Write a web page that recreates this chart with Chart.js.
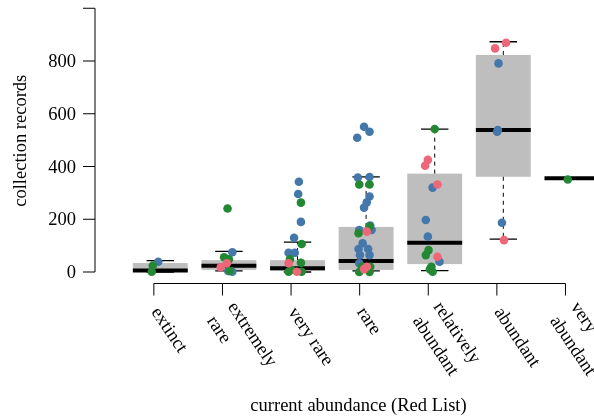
<!DOCTYPE html>
<html lang="en">
<head>
    <meta charset="UTF-8">
    <title>Collection records by abundance</title>
    <script src="https://cdn.jsdelivr.net/npm/chart.js@4.4.0/dist/chart.umd.min.js"></script>
    <style>
        body { margin: 0; padding: 0; background: #fff; }
        #chart { display: block; }
    </style>
</head>
<body>
<canvas id="chart" width="594" height="417"></canvas>
<script>
    // categories (multi-line labels as arrays of lines)
    const categories = [['extinct'], ['extremely', 'rare'], ['very rare'], ['rare'],
                        ['relatively', 'abundant'], ['abundant'], ['very', 'abundant']];

    // box statistics per category
    const boxLow    = [0, 4, 0, 4, 5, 125, 355];
    const boxQ1     = [0, 8, 5, 8, 30, 361, 355];
    const boxMedian = [6, 24, 14, 42, 111, 538, 355];
    const boxQ3     = [34, 45, 45, 171, 373, 823, 355];
    const boxHigh   = [43, 78, 113, 361, 542, 873, 355];

    // y axis
    const yTicks  = [0, 200, 400, 600, 800, 1000];
    const yLabels = ['0', '200', '400', '600', '800', ''];

    // jittered points: x = category number + jitter, y = collection records
    const blueX = [0.97, 2.05, 1.99, 2.05, 3.02, 3.01, 3.05, 2.95, 2.87, 2.96,
                   3.97, 4.05, 3.87, 3.88, 4.05, 4.05, 4.01, 3.97, 4.06, 4.08, 3.90, 3.95, 3.89, 4.03, 3.91, 4.05, 3.90,
                   4.97, 4.87, 4.90, 5.07, 5.93, 5.91, 5.92, 5.98];
    const blueY = [39, 75, 4, 1, 342, 296, 190, 130, 73, 73,
                   551, 532, 509, 358, 360, 286, 264, 244, 176, 159, 159, 109, 87, 87, 64, 64, 33,
                   320, 197, 134, 39, 791, 532, 538, 187];

    const greenX = [0.89, 0.875, 1.98, 1.93, 2.00, 2.01, 3.05, 3.06, 2.89, 3.05, 2.91, 2.87, 3.06,
                    3.90, 4.05, 4.05, 3.89, 3.94, 4.06, 3.90, 4.05,
                    5.00, 4.91, 4.87, 4.95, 4.93, 4.97, 6.94];
    const greenY = [24, 1, 241, 56, 48, 4, 263, 106, 48, 35, 8, 1, 1,
                    332, 332, 172, 147, 20, 20, 0, 0,
                    542, 83, 64, 20, 11, 1, 351];

    const pinkX = [1.97, 1.88, 2.87, 2.99, 4.01, 4.01, 3.97,
                   4.90, 4.86, 5.04, 5.04, 6.04, 5.88, 6.01];
    const pinkY = [33, 18, 33, 1, 153, 20, 11,
                   425, 403, 332, 58, 869, 848, 121];

    const FONT = '"Liberation Serif", "DejaVu Serif", serif';
    const boxHalf = 0.4;      // half box width, category units
    const capHalf = 0.2;
    const tickShift = 0.094;  // axis ticks sit slightly left of the boxes
    const labelAngle = 56 * Math.PI / 180;

    function pts(xs, ys) {
        return xs.map((x, i) => ({ x: x, y: ys[i] }));
    }

    const rPlot = {
        id: 'rPlot',
        beforeDatasetsDraw(chart) {
            const ctx = chart.ctx;
            const x = chart.scales.x, y = chart.scales.y;
            ctx.save();
            for (let i = 0; i < categories.length; i++) {
                const c = i + 1;
                const l = x.getPixelForValue(c - boxHalf), r = x.getPixelForValue(c + boxHalf);
                const cx = x.getPixelForValue(c);
                const cl = x.getPixelForValue(c - capHalf), cr = x.getPixelForValue(c + capHalf);
                const yq1 = y.getPixelForValue(boxQ1[i]), yq3 = y.getPixelForValue(boxQ3[i]);

                // box
                ctx.fillStyle = '#bebebe';
                ctx.fillRect(l, yq3, r - l, yq1 - yq3);

                // whiskers
                if (boxHigh[i] > boxLow[i]) {
                    ctx.strokeStyle = '#000';
                    ctx.lineWidth = 1;
                    ctx.setLineDash([4, 4]);
                    ctx.beginPath();
                    ctx.moveTo(cx, yq3); ctx.lineTo(cx, y.getPixelForValue(boxHigh[i]));
                    ctx.moveTo(cx, yq1); ctx.lineTo(cx, y.getPixelForValue(boxLow[i]));
                    ctx.stroke();
                    ctx.setLineDash([]);
                    ctx.lineWidth = 1.3;
                    ctx.beginPath();
                    ctx.moveTo(cl, y.getPixelForValue(boxHigh[i])); ctx.lineTo(cr, y.getPixelForValue(boxHigh[i]));
                    ctx.moveTo(cl, y.getPixelForValue(boxLow[i])); ctx.lineTo(cr, y.getPixelForValue(boxLow[i]));
                    ctx.stroke();
                }

                // median
                ctx.strokeStyle = '#000';
                ctx.lineWidth = 4;
                ctx.beginPath();
                ctx.moveTo(l, y.getPixelForValue(boxMedian[i]));
                ctx.lineTo(r, y.getPixelForValue(boxMedian[i]));
                ctx.stroke();
            }
            ctx.restore();
        },
        afterDraw(chart) {
            const ctx = chart.ctx;
            const x = chart.scales.x, y = chart.scales.y;
            const area = chart.chartArea;
            ctx.save();
            ctx.strokeStyle = '#000';
            ctx.fillStyle = '#000';
            ctx.lineWidth = 1;
            ctx.font = '18.5px ' + FONT;

            // y axis
            const ax = area.left;
            ctx.beginPath();
            ctx.moveTo(ax, y.getPixelForValue(yTicks[0]));
            ctx.lineTo(ax, y.getPixelForValue(yTicks[yTicks.length - 1]));
            yTicks.forEach(v => {
                const py = y.getPixelForValue(v);
                ctx.moveTo(ax, py); ctx.lineTo(ax - 12, py);
            });
            ctx.stroke();
            ctx.textAlign = 'right';
            ctx.textBaseline = 'alphabetic';
            yTicks.forEach((v, i) => {
                ctx.fillText(yLabels[i], ax - 19, y.getPixelForValue(v) + 6.2);
            });

            // y title
            ctx.save();
            ctx.translate(25.5, (area.top + area.bottom) / 2 - 1);
            ctx.rotate(-Math.PI / 2);
            ctx.textAlign = 'center';
            ctx.fillText('collection records', 0, 0);
            ctx.restore();

            // x axis
            const by = area.bottom;
            const first = x.getPixelForValue(1 - tickShift);
            const last = x.getPixelForValue(categories.length - tickShift);
            ctx.beginPath();
            ctx.moveTo(first, by); ctx.lineTo(last, by);
            categories.forEach((_, i) => {
                const px = x.getPixelForValue(i + 1 - tickShift);
                ctx.moveTo(px, by); ctx.lineTo(px, by + 12);
            });
            ctx.stroke();

            // rotated category labels
            ctx.textAlign = 'left';
            ctx.textBaseline = 'middle';
            const lineH = 25;
            categories.forEach((lines, i) => {
                const px = x.getPixelForValue(i + 1 - tickShift);
                const firstOff = lines.length > 1 ? -9.5 : 0;
                ctx.save();
                ctx.translate(px, by + 24.5);
                ctx.rotate(labelAngle);
                lines.forEach((t, k) => {
                    ctx.fillText(t, 1.5, firstOff + k * lineH);
                });
                ctx.restore();
            });

            // x title
            ctx.textAlign = 'center';
            ctx.textBaseline = 'alphabetic';
            ctx.fillText('current abundance (Red List)', 358.5, 411);
            ctx.restore();
        }
    };

    const chart = new Chart(document.getElementById('chart').getContext('2d'), {
        type: 'scatter',
        data: {
            datasets: [
                { label: 'pink', data: pts(pinkX, pinkY), backgroundColor: '#EE6677' },
                { label: 'green', data: pts(greenX, greenY), backgroundColor: '#228833' },
                { label: 'blue', data: pts(blueX, blueY), backgroundColor: '#4477AA' }
            ]
        },
        options: {
            responsive: false,
            animation: false,
            devicePixelRatio: 1,
            layout: { autoPadding: false, padding: { left: 95, top: 0, right: 0, bottom: 133.5 } },
            elements: { point: { radius: 4.3, borderWidth: 0, hoverRadius: 4.3 } },
            scales: {
                x: { type: 'linear', display: false, min: 0.048, max: 7.322 },
                y: { type: 'linear', display: false, min: -43.6, max: 1031.3 }
            },
            plugins: { legend: { display: false }, tooltip: { enabled: false } }
        },
        plugins: [rPlot]
    });
</script>
</body>
</html>
